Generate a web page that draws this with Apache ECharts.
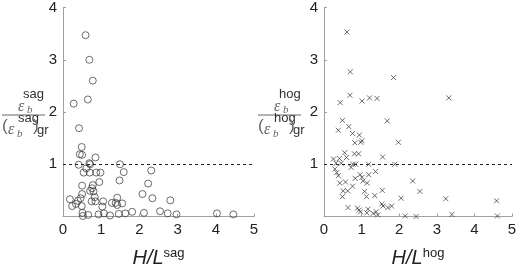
<!DOCTYPE html>
<html>
<head>
<meta charset="utf-8">
<script src="https://cdn.jsdelivr.net/npm/echarts@6/dist/echarts.min.js"></script>
<style>
  html, body { margin: 0; padding: 0; background: #fff; }
  #main { width: 520px; height: 273px; }
</style>
</head>
<body>
<div id="main"></div>
<script>
// sag panel: [H/L, eps / eps_gr]
const sagX = [0.59, 0.69, 0.78, 0.65, 0.28, 0.42, 0.49, 0.44, 0.50, 0.85, 0.41, 0.69, 0.61, 0.71,
  1.49, 2.31, 0.54, 0.70, 0.87, 0.98, 1.59, 0.95, 1.48, 0.50, 0.78, 2.23, 0.76, 0.71, 0.80, 0.50,
  2.08, 0.83, 0.46, 0.18, 0.39, 1.42, 2.34, 2.81, 0.75, 0.85, 1.05, 1.28, 1.38, 1.55, 0.34, 0.24,
  0.49, 1.03, 1.42, 0.51, 0.52, 0.66, 0.93, 1.07, 1.23, 1.46, 1.63, 1.81, 2.12, 2.54, 2.74, 2.97,
  4.03, 4.46];
const sagY = [3.47, 3.00, 2.60, 2.24, 2.16, 1.69, 1.33, 1.19, 1.18, 1.13, 0.99, 1.02, 0.92, 1.00,
  1.00, 0.88, 0.84, 0.84, 0.84, 0.84, 0.85, 0.66, 0.69, 0.59, 0.60, 0.63, 0.54, 0.49, 0.48, 0.43,
  0.43, 0.37, 0.35, 0.33, 0.30, 0.36, 0.35, 0.31, 0.29, 0.29, 0.29, 0.26, 0.26, 0.25, 0.24, 0.20,
  0.20, 0.19, 0.22, 0.07, 0.01, 0.03, 0.04, 0.06, 0.02, 0.05, 0.06, 0.09, 0.07, 0.10, 0.06, 0.04,
  0.06, 0.04];

// hog panel
const hogX = [0.61, 0.70, 1.85, 0.69, 1.21, 1.41, 3.32, 1.01, 0.43, 0.49, 1.68, 0.66, 0.38, 0.76,
  0.94, 0.82, 0.98, 1.01, 1.98, 0.81, 0.92, 0.55, 0.60, 0.25, 0.41, 1.56, 0.32, 0.46, 0.77, 0.84,
  1.19, 1.88, 0.72, 0.29, 0.34, 1.37, 0.38, 0.96, 1.19, 0.83, 1.01, 1.04, 2.36, 0.42, 0.57, 1.15,
  0.76, 0.51, 0.63, 1.08, 1.55, 2.55, 0.49, 1.13, 1.35, 2.05, 3.24, 4.59, 1.54, 1.57, 1.80, 1.70,
  0.64, 0.89, 0.93, 0.97, 1.17, 1.14, 1.31, 1.39, 1.43, 2.16, 2.45, 3.40, 4.61];
const hogY = [3.53, 2.77, 2.66, 2.32, 2.27, 2.26, 2.27, 2.21, 2.18, 1.84, 1.83, 1.72, 1.65, 1.59,
  1.56, 1.41, 1.42, 1.45, 1.42, 1.20, 1.20, 1.22, 1.13, 1.10, 1.11, 1.14, 1.02, 1.02, 1.00, 1.00,
  1.00, 1.00, 0.94, 0.91, 0.84, 0.86, 0.78, 0.80, 0.80, 0.73, 0.75, 0.68, 0.68, 0.64, 0.66, 0.64,
  0.58, 0.49, 0.49, 0.48, 0.50, 0.48, 0.38, 0.38, 0.40, 0.35, 0.34, 0.30, 0.24, 0.20, 0.20, 0.17,
  0.17, 0.16, 0.12, 0.09, 0.14, 0.07, 0.06, 0.09, 0.03, 0.01, 0.00, 0.04, 0.01];

const xTicks = [0, 1, 2, 3, 4, 5];
const yTicks = [0, 1, 2, 3, 4];
const refLevel = 1;

const FONT = 'Liberation Sans';
const axisGray = '#a0a0a0';
const ink = '#222';

function pairs(xs, ys) {
  return xs.map((x, i) => [x, ys[i]]);
}

function makeX(idx, sup) {
  return {
    gridIndex: idx, type: 'value',
    min: xTicks[0], max: xTicks[xTicks.length - 1], interval: 1,
    splitLine: { show: false },
    axisLine: { lineStyle: { color: axisGray } },
    axisTick: { inside: true, length: 3, lineStyle: { color: axisGray } },
    axisLabel: { color: ink, fontFamily: FONT, fontSize: 15, margin: 6 },
    name: '{a|H/L}{s|' + sup + '}',
    nameLocation: 'middle',
    nameGap: 30,
    nameTextStyle: {
      rich: {
        a: { fontFamily: FONT, fontStyle: 'italic', fontSize: 20, color: ink },
        s: { fontFamily: FONT, fontSize: 13, color: ink, padding: [0, 0, 10, 0] }
      }
    }
  };
}

function makeY(idx) {
  return {
    gridIndex: idx, type: 'value',
    min: yTicks[0], max: yTicks[yTicks.length - 1], interval: 1,
    splitLine: { show: false },
    axisLine: { lineStyle: { color: axisGray } },
    axisTick: { inside: true, length: 3, lineStyle: { color: axisGray } },
    axisLabel: { color: ink, fontFamily: FONT, fontSize: 15, margin: 6, showMinLabel: false }
  };
}

// fraction-style y title: eps_b^sup / (eps_b^sup)_gr
function fracTitle(x0, sup) {
  const t = (x, y, text, size, extra) => ({
    type: 'text', x: x, y: y,
    style: Object.assign({ text: text, fill: '#333', font: size + 'px ' + FONT, verticalAlign: 'top' }, extra || {})
  });
  const it = { font: 'italic 16px "Liberation Serif"', fill: '#666' };
  const itb = { font: 'italic 11px "Liberation Serif"', fill: '#666' };
  return {
    type: 'group', x: x0, y: 0,
    children: [
      t(21, 88, sup, 13),
      t(16, 99, 'ε', 16, it),
      t(25, 105, 'b', 11, itb),
      { type: 'line', shape: { x1: 0, y1: 115, x2: 43, y2: 115 }, style: { stroke: '#666', lineWidth: 1 } },
      t(0, 118, '(', 17, { fill: '#666' }),
      t(6, 122, 'ε', 16, it),
      t(15, 129, 'b', 11, itb),
      t(16, 112, sup, 13),
      t(31, 118, ')', 17, { fill: '#666' }),
      t(35, 124, 'gr', 13)
    ]
  };
}

const refLine = {
  silent: true, symbol: 'none', label: { show: false },
  lineStyle: { type: [3, 3], color: '#222', width: 1 },
  data: [{ yAxis: refLevel }]
};

const chart = echarts.init(document.getElementById('main'), null, { renderer: 'canvas' });
chart.setOption({
  animation: false,
  backgroundColor: '#fff',
  grid: [
    { left: 63, top: 7, width: 191, height: 216 },
    { left: 324, top: 7, width: 188, height: 215 }
  ],
  xAxis: [makeX(0, 'sag'), makeX(1, 'hog')],
  yAxis: [makeY(0), makeY(1)],
  graphic: [fracTitle(2, 'sag'), fracTitle(258, 'hog')],
  series: [
    {
      type: 'scatter', xAxisIndex: 0, yAxisIndex: 0,
      data: pairs(sagX, sagY),
      symbol: 'circle', symbolSize: 7,
      itemStyle: { color: 'transparent', borderColor: '#333', borderWidth: 0.9 },
      markLine: refLine
    },
    {
      type: 'scatter', xAxisIndex: 1, yAxisIndex: 1,
      data: pairs(hogX, hogY),
      symbol: 'path://M0,0L10,10M10,0L0,10', symbolSize: 5,
      itemStyle: { color: 'transparent', borderColor: '#333', borderWidth: 0.9 },
      markLine: refLine
    }
  ]
});
</script>
</body>
</html>
